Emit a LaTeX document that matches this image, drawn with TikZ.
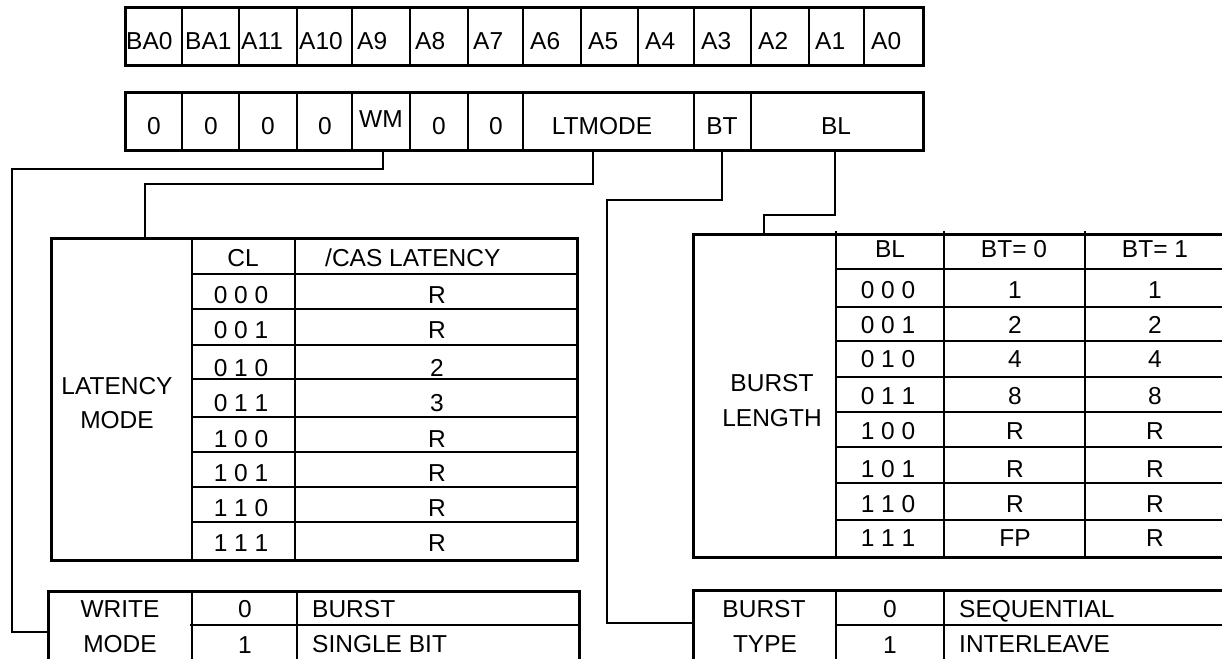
\documentclass[tikz,border=0pt]{standalone}
\usepackage{fontspec}
\setmainfont{Liberation Sans}
\begin{document}
\begin{tikzpicture}[x=1pt,y=-1pt,
  font=\fontsize{24.5}{29}\selectfont,
  outer/.style={line width=3pt},
  inner/.style={line width=2pt},
  wire/.style={line width=1.4pt},
  lbl/.style={inner sep=0pt, anchor=base},
  lblw/.style={inner sep=0pt, anchor=base west}]
\useasboundingbox (0,0) rectangle (1222,658);
\clip (0,0) rectangle (1222,658);

% ---------- register row 1 ----------
\foreach \x in {182,239,297,352,410,468,523,581,638,694,751,809,864}
  \draw[inner] (\x,8) -- (\x,66);
\draw[outer] (125,8) rectangle (923,66);
\foreach \t/\x [count=\i] in {BA0/126,BA1/185,A11/241,A10/299,A9/357,A8/415,A7/473,A6/530,A5/588,A4/645,A3/701,A2/758,A1/815,A0/871}
  \node[lblw] (ra\i) at (\x,50) {\t};

% ---------- register row 2 ----------
\foreach \x in {182,239,297,352,410,468,523,694,751}
  \draw[inner] (\x,93) -- (\x,150);
\draw[outer] (125,93) rectangle (923,150);
\foreach \x [count=\i] in {154,211,268,325,439,496}
  \node[lbl] (rz\i) at (\x,134) {0};
\node[lbl] (rwm) at (381,128) {WM};
\node[lbl] (rlt) at (602,134) {LTMODE};
\node[lbl] (rbt) at (722,134) {BT};
\node[lbl] (rbl) at (836,134) {BL};

% ---------- connectors ----------
\coordinate (wmS) at (383,150);
\coordinate (wmB) at (12,169);
\coordinate (wmE) at (48,632);
\coordinate (ltS) at (593,150);
\coordinate (ltB) at (145,184);
\coordinate (ltE) at (145,238);
\coordinate (btS) at (722,150);
\coordinate (btB) at (607,200);
\coordinate (btE) at (693,623);
\coordinate (blS) at (835,150);
\coordinate (blB) at (764,215);
\coordinate (blE) at (764,234);
\draw[wire] (wmS) |- (wmB) |- (wmE);
\draw[wire] (ltS) |- (ltB) -- (ltE);
\draw[wire] (btS) |- (btB) |- (btE);
\draw[wire] (blS) |- (blB) -- (blE);

% ---------- latency table ----------
\draw[inner] (192,238) -- (192,560);
\draw[inner] (295,238) -- (295,560);
\foreach \y in {274,309,345,379,417,452,487,522}
  \draw[inner] (192,\y) -- (577,\y);
\draw[outer] (51,238) rectangle (577,560);
\node[lbl] (lcl) at (243,266) {CL};
\node[lblw] (lcas) at (325,266) {/CAS LATENCY};
\foreach \c/\v/\y [count=\i] in {0 0 0/R/303,0 0 1/R/338,0 1 0/2/376,0 1 1/3/411,1 0 0/R/447,1 0 1/R/481,1 1 0/R/516,1 1 1/R/551}{
  \node[lbl] (lc\i) at (241,\y) {\c};
  \node[lbl] (lv\i) at (437,\y) {\v};
}
\node[lbl] (lm1) at (117,394) {LATENCY};
\node[lbl] (lm2) at (117,428) {MODE};

% ---------- write mode table ----------
\draw[inner] (192,591) -- (192,680);
\draw[inner] (297,591) -- (297,680);
\draw[inner] (190,625) -- (579,625);
\draw[outer] (48,591) rectangle (579,680);
\node[lbl] (wm1) at (120,617) {WRITE};
\node[lbl] (wm2) at (120,652) {MODE};
\node[lbl] (wv0) at (245,617) {0};
\node[lbl] (wv1) at (245,653) {1};
\node[lblw] (wt0) at (312,617) {BURST};
\node[lblw] (wt1) at (312,652) {SINGLE BIT};

% ---------- burst length table ----------
\foreach \x in {836,944,1085}
  \draw[inner] (\x,231) -- (\x,557);
\foreach \y in {269,307,341,377,412,447,483,520}
  \draw[inner] (836,\y) -- (1226,\y);
\draw[outer] (693,234) rectangle (1226,557);
\node[lbl] (bhl) at (890,257) {BL};
\node[lbl] (bh0) at (1014,257) {BT= 0};
\node[lbl] (bh1) at (1155,257) {BT= 1};
\foreach \c/\a/\b/\y [count=\i] in {0 0 0/1/1/298,0 0 1/2/2/333,0 1 0/4/4/367,0 1 1/8/8/404,1 0 0/R/R/439,1 0 1/R/R/477,1 1 0/R/R/512,1 1 1/FP/R/546}{
  \node[lbl] (bc\i) at (888,\y) {\c};
  \node[lbl] (ba\i) at (1015,\y) {\a};
  \node[lbl] (bb\i) at (1155,\y) {\b};
}
\node[lbl] (bm1) at (772,391) {BURST};
\node[lbl] (bm2) at (772,426) {LENGTH};

% ---------- burst type table ----------
\draw[inner] (836,590) -- (836,680);
\draw[inner] (944,590) -- (944,680);
\draw[inner] (836,625) -- (1226,625);
\draw[outer] (693,590) rectangle (1226,680);
\node[lbl] (tt1) at (764,617) {BURST};
\node[lbl] (tt2) at (765,652) {TYPE};
\node[lbl] (tv0) at (890,617) {0};
\node[lbl] (tv1) at (890,653) {1};
\node[lblw] (tx0) at (959,617) {SEQUENTIAL};
\node[lblw] (tx1) at (959,652) {INTERLEAVE};
\end{tikzpicture}
\end{document}
